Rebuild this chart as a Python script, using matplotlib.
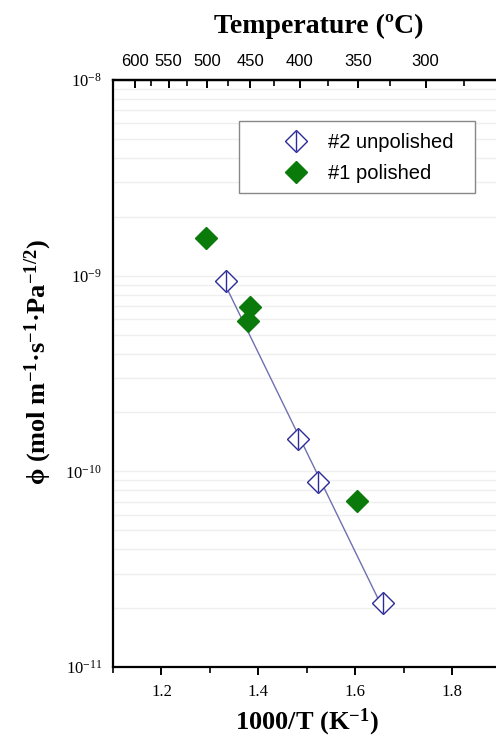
import numpy as np
import matplotlib
matplotlib.use('Agg')
import matplotlib.pyplot as plt
from matplotlib.lines import Line2D
from matplotlib.patches import Rectangle
from matplotlib.ticker import FixedLocator, MultipleLocator, LogLocator, LogFormatterMathtext, NullFormatter

plt.rcParams['mathtext.fontset'] = 'custom'
plt.rcParams['mathtext.rm'] = 'Liberation Serif'
plt.rcParams['mathtext.bf'] = 'Liberation Serif:bold'
plt.rcParams['mathtext.it'] = 'Liberation Serif:italic'

### Data ###

unpolished_x = [1.333, 1.481, 1.523, 1.657]
unpolished_y = [9.4e-10, 1.47e-10, 8.8e-11, 2.13e-11]

polished_x = [1.292, 1.3825, 1.378, 1.603]
polished_y = [1.56e-9, 6.9e-10, 5.87e-10, 7.06e-11]

temp_major = [600, 550, 500, 450, 400, 350, 300]
temp_minor = [575, 525, 475, 425, 375, 325, 275]

### Plot ###

fig = plt.figure(figsize=(4.96, 7.44), dpi=100)
ax = fig.add_axes([113 / 496, 77 / 744, 1 - 113 / 496, 587 / 744])

ax.set_xlim(1.1, 1.89)
ax.set_ylim(1e-11, 1e-8)
ax.set_yscale('log')

# Light horizontal grid at the log minor ticks
ax.yaxis.set_major_locator(LogLocator(base=10))
ax.yaxis.set_minor_locator(LogLocator(base=10, subs=np.arange(2, 10)))
ax.yaxis.set_major_formatter(LogFormatterMathtext())
ax.yaxis.set_minor_formatter(NullFormatter())
ax.grid(True, which='both', axis='y', color='#efefef', linewidth=1.0)
ax.set_axisbelow(True)

# Arrhenius fit through the unpolished points
fit = np.polyfit(unpolished_x, np.log10(unpolished_y), 1)
fit_x = np.array([unpolished_x[0], unpolished_x[-1]])
ax.plot(fit_x, 10 ** np.polyval(fit, fit_x), color='#7070b0', linewidth=1.0, zorder=2)

# Unpolished: open diamond with a vertical line inside
ax.plot(unpolished_x, unpolished_y, linestyle='none', marker='D', markersize=11,
        markerfacecolor='white', markeredgecolor='#2b2b9a', markeredgewidth=1.0, zorder=3)
ax.plot(unpolished_x, unpolished_y, linestyle='none', marker='|', markersize=15,
        markeredgecolor='#2b2b9a', markeredgewidth=1.0, zorder=4)

# Polished: filled green diamonds
ax.plot(polished_x, polished_y, linestyle='none', marker='D', markersize=11,
        color='#0a7a0a', zorder=3)

# Legend: frameless legend plus a hand-placed box (Origin style padding)
handles = [
    (Line2D([], [], linestyle='none', marker='D', markersize=11, markerfacecolor='white',
            markeredgecolor='#2b2b9a', markeredgewidth=1.0),
     Line2D([], [], linestyle='none', marker='|', markersize=15, markeredgecolor='#2b2b9a',
            markeredgewidth=1.0)),
    Line2D([], [], linestyle='none', marker='D', markersize=11, color='#0a7a0a'),
]
leg = ax.legend(handles, ['#2 unpolished', '#1 polished'], loc='center left',
                bbox_to_anchor=(159 / 383, 509 / 587), frameon=False,
                borderpad=0, borderaxespad=0, handletextpad=0.4, handlelength=2.4,
                labelspacing=0.6, prop={'family': 'Liberation Sans', 'size': 14.5})
ax.add_patch(Rectangle((126 / 383, 474 / 587), 236 / 383, 72 / 587, transform=ax.transAxes,
                       facecolor='white', edgecolor='#888888', linewidth=1.0, zorder=4.5))
leg.set_zorder(5)

# Spines and ticks
ax.spines['right'].set_visible(False)
for side in ('left', 'bottom', 'top'):
    ax.spines[side].set_linewidth(1.6)
ax.tick_params(axis='y', which='both', length=0, labelsize=12, pad=8)
ax.xaxis.set_major_locator(MultipleLocator(0.2))
ax.xaxis.set_minor_locator(MultipleLocator(0.1))
ax.tick_params(axis='x', which='major', direction='out', length=6, width=1.4, labelsize=12, pad=6)
ax.tick_params(axis='x', which='minor', direction='out', length=4, width=1.2)
for lbl in ax.get_xticklabels() + ax.get_yticklabels():
    lbl.set_fontfamily('Liberation Serif')
ax.xaxis.get_offset_text().set_visible(False)
ax.yaxis.get_offset_text().set_visible(False)

# Top axis in degrees Celsius
top = ax.twiny()
top.set_xlim(ax.get_xlim())
top.xaxis.set_major_locator(FixedLocator([1000 / (t + 273.15) for t in temp_major]))
top.xaxis.set_minor_locator(FixedLocator([1000 / (t + 273.15) for t in temp_minor]))
top.set_xticklabels([str(t) for t in temp_major], fontfamily='Liberation Sans', fontsize=12)
top.tick_params(axis='x', which='major', direction='in', length=6, width=1.4, pad=8)
top.tick_params(axis='x', which='minor', direction='in', length=4, width=1.2)
for side in ('left', 'right', 'bottom'):
    top.spines[side].set_visible(False)
top.spines['top'].set_linewidth(1.6)

top.set_xlabel('Temperature (ºC)', fontfamily='Liberation Serif', fontweight='bold', fontsize=20)
top.xaxis.set_label_coords(0.536, 1.0 + 54 / 587)
top.xaxis.label.set_verticalalignment('center')

ax.set_xlabel('1000/T (K$^{\\mathbf{-1}}$)', fontfamily='Liberation Serif', fontweight='bold',
              fontsize=19)
ax.xaxis.set_label_coords(0.506, -55 / 587)
ax.xaxis.label.set_verticalalignment('center')

ax.set_ylabel('ϕ (mol m$^{\\mathbf{-1}}$·s$^{\\mathbf{-1}}$·Pa$^{\\mathbf{-1/2}}$)',
              fontfamily=['Liberation Serif', 'DejaVu Serif'], fontweight='bold', fontsize=19)
ax.yaxis.set_label_coords(-75 / 383, 0.52)
ax.yaxis.label.set_verticalalignment('center')

fig.savefig('out.png', dpi=100)
